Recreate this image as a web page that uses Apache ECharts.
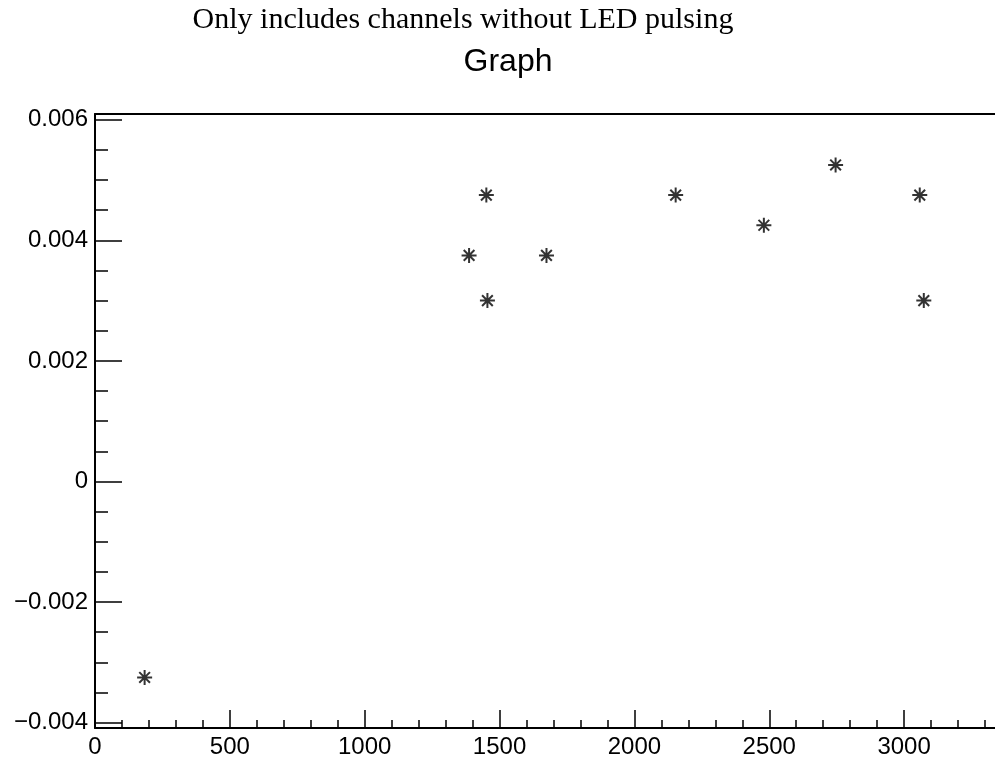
<!DOCTYPE html>
<html>
<head>
<meta charset="utf-8">
<script src="https://cdn.jsdelivr.net/npm/echarts@6/dist/echarts.min.js"></script>
<style>
html, body { margin: 0; padding: 0; background: #fff; }
#graph { width: 995px; height: 759px; }
</style>
</head>
<body>
<div id="graph"></div>
<script>
// points
var xValues = [184, 1387, 1451, 1455, 1674, 2153, 2480, 2746, 3058, 3073];
var yValues = [-0.00325, 0.00375, 0.00475, 0.003, 0.00375, 0.00475, 0.00425, 0.00525, 0.00475, 0.003];

// ticks
var xMajor = [0, 500, 1000, 1500, 2000, 2500, 3000];
var xMinor = [100, 200, 300, 400, 600, 700, 800, 900, 1100, 1200, 1300, 1400,
    1600, 1700, 1800, 1900, 2100, 2200, 2300, 2400, 2600, 2700, 2800, 2900,
    3100, 3200, 3300];
var yMajor = [-0.004, -0.002, 0, 0.002, 0.004, 0.006];
var yMinor = [-0.0035, -0.003, -0.0025, -0.0015, -0.001, -0.0005,
    0.0005, 0.001, 0.0015, 0.0025, 0.003, 0.0035, 0.0045, 0.005, 0.0055];

var xRange = [0, 3337];
var yRange = [-0.004088, 0.006095];

(function(){

    var chart = echarts.init(document.getElementById('graph'));

    var points = xValues.map(function(x, i){ return [x, yValues[i]]; });

    function plain(v){ return String(v).replace('-', '\u2212'); }

    var option = {
        animation: false,
        backgroundColor: '#fff',
        title: [
            {
                text: 'Only includes channels without LED pulsing',
                left: 463, top: 5, padding: 0, textAlign: 'center',
                textStyle: { fontFamily: 'Liberation Serif', fontSize: 30, fontWeight: 'normal', color: '#000', lineHeight: 30 }
            },
            {
                text: 'Graph',
                left: 508, top: 46, padding: 0, textAlign: 'center',
                textStyle: { fontFamily: 'Liberation Sans', fontSize: 32, fontWeight: 'normal', color: '#000', lineHeight: 32 }
            }
        ],
        grid: {
            left: 95, right: 0, top: 114, bottom: 31,
            outerBoundsMode: 'none'
        },
        xAxis: [
            {
                type: 'value', position: 'bottom', min: xRange[0], max: xRange[1],
                splitLine: { show: false },
                axisLine: { onZero: false, lineStyle: { color: '#000', width: 2 } },
                axisTick: { inside: true, length: 18, customValues: xMajor, lineStyle: { color: '#000', width: 1.5 } },
                axisLabel: { customValues: xMajor, margin: 7, color: '#000', fontFamily: 'Liberation Sans', fontSize: 24, formatter: plain }
            },
            {
                type: 'value', position: 'bottom', min: xRange[0], max: xRange[1],
                splitLine: { show: false },
                axisLine: { show: false, onZero: false },
                axisTick: { inside: true, length: 8, customValues: xMinor, lineStyle: { color: '#000', width: 1.5 } },
                axisLabel: { show: false }
            },
            {
                type: 'value', position: 'top', min: xRange[0], max: xRange[1],
                splitLine: { show: false },
                axisLine: { onZero: false, lineStyle: { color: '#000', width: 2 } },
                axisTick: { show: false },
                axisLabel: { show: false }
            }
        ],
        yAxis: [
            {
                type: 'value', position: 'left', min: yRange[0], max: yRange[1],
                splitLine: { show: false },
                axisLine: { show: true, onZero: false, lineStyle: { color: '#000', width: 2 } },
                axisTick: { show: true, inside: true, length: 27, customValues: yMajor, lineStyle: { color: '#000', width: 1.5 } },
                axisLabel: { customValues: yMajor, margin: 7, color: '#000', fontFamily: 'Liberation Sans', fontSize: 24, formatter: plain }
            },
            {
                type: 'value', position: 'left', min: yRange[0], max: yRange[1],
                splitLine: { show: false },
                axisLine: { show: false, onZero: false },
                axisTick: { show: true, inside: true, length: 13, customValues: yMinor, lineStyle: { color: '#000', width: 1.5 } },
                axisLabel: { show: false }
            }
        ],
        series: [
            {
                type: 'scatter',
                xAxisIndex: 0,
                yAxisIndex: 0,
                symbol: 'path://M7,0L7,14M0,7L14,7M2,2L12,12M2,12L12,2',
                symbolSize: 15,
                itemStyle: { color: 'transparent', borderColor: '#000', borderWidth: 2 },
                data: points
            }
        ]
    };

    chart.setOption(option);
})();
</script>
</body>
</html>
